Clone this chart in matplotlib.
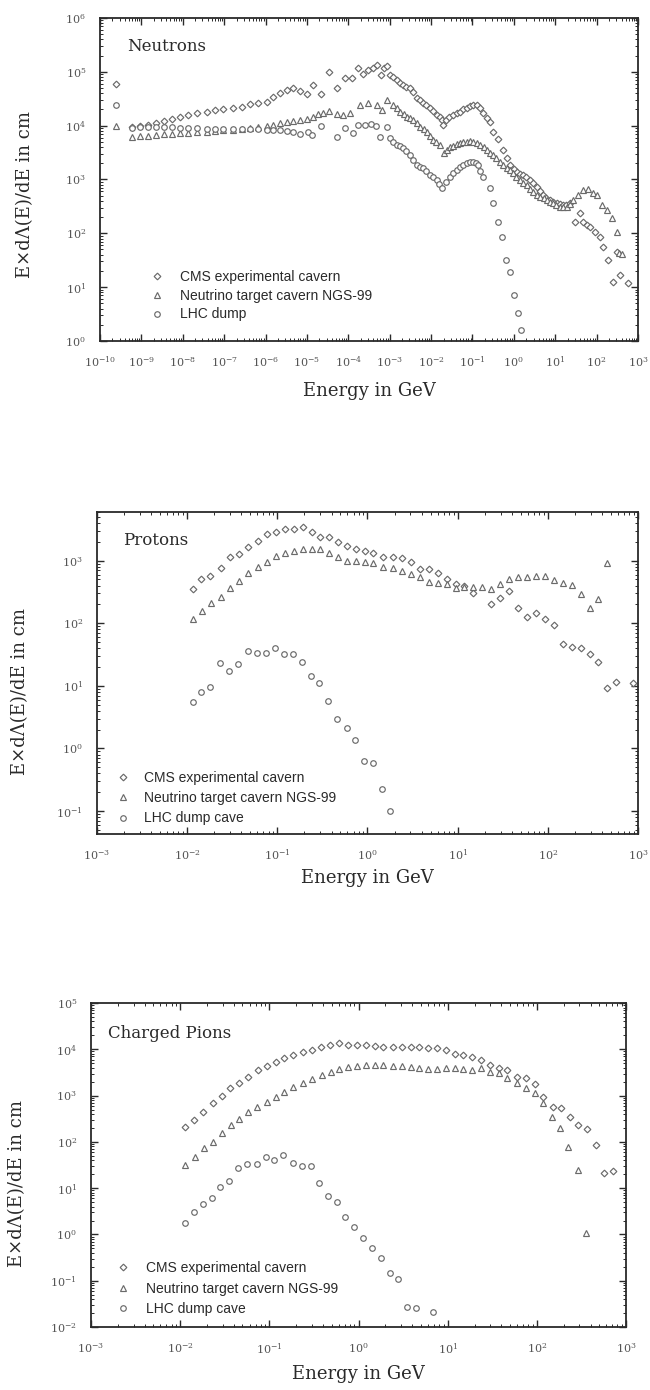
import numpy as np
import matplotlib
matplotlib.use("Agg")
import matplotlib.pyplot as plt
from matplotlib.ticker import LogLocator, LogFormatterMathtext, NullFormatter, FixedLocator

plt.rcParams["mathtext.fontset"] = "dejavuserif"

# ---------------- Neutrons (log10 of energy in GeV, log10 of E dPhi/dE in cm) ----------------
neutron_cms_log_e = [-9.61, -9.23, -9.03, -8.84, -8.65, -8.45, -8.26, -8.07, -7.87, -7.66,
                     -7.42, -7.22, -7.03, -6.79, -6.57, -6.38, -6.18, -5.97, -5.82, -5.65,
                     -5.48, -5.34, -5.17, -5.00, -4.85, -4.66, -4.47, -4.28, -4.08, -3.91,
                     -3.77, -3.65, -3.53, -3.41, -3.31, -3.21, -3.14, -3.07, -3.00, -2.92,
                     -2.83, -2.75, -2.68, -2.60, -2.51, -2.43, -2.34, -2.27, -2.20, -2.12,
                     -2.03, -1.95, -1.86, -1.79, -1.74, -1.70, -1.64, -1.57, -1.47, -1.38,
                     -1.30, -1.22, -1.14, -1.06, -0.99, -0.90, -0.82, -0.75, -0.66, -0.58,
                     -0.51, -0.39, -0.27, -0.17, -0.10, 0.00, 0.07, 0.15, 0.22, 0.30,
                     0.39, 0.47, 0.56, 0.63, 0.70, 0.78, 0.87, 0.95, 1.04, 1.11,
                     1.18, 1.27, 1.35, 1.47, 1.59, 1.67, 1.76, 1.84, 1.96, 2.08,
                     2.15, 2.27, 2.39, 2.49, 2.56, 2.75]
neutron_cms_log_y = [4.78, 3.98, 4.00, 4.02, 4.05, 4.08, 4.12, 4.16, 4.20, 4.24,
                     4.26, 4.29, 4.31, 4.33, 4.35, 4.40, 4.42, 4.44, 4.54, 4.61,
                     4.66, 4.69, 4.65, 4.58, 4.76, 4.58, 5.00, 4.70, 4.89, 4.89,
                     5.07, 4.96, 5.04, 5.07, 5.13, 4.94, 5.07, 5.11, 4.94, 4.90,
                     4.85, 4.80, 4.76, 4.72, 4.70, 4.62, 4.52, 4.47, 4.42, 4.38,
                     4.33, 4.27, 4.20, 4.16, 4.10, 4.01, 4.10, 4.16, 4.20, 4.23,
                     4.26, 4.30, 4.33, 4.36, 4.39, 4.38, 4.32, 4.24, 4.15, 4.07,
                     3.88, 3.75, 3.55, 3.40, 3.27, 3.20, 3.14, 3.11, 3.09, 3.04,
                     2.99, 2.93, 2.86, 2.78, 2.71, 2.66, 2.62, 2.59, 2.56, 2.54,
                     2.52, 2.53, 2.56, 2.21, 2.38, 2.21, 2.16, 2.12, 2.03, 1.93,
                     1.75, 1.51, 1.10, 1.65, 1.23, 1.08]

neutron_ngs_log_e = [-9.61, -9.23, -9.03, -8.84, -8.65, -8.45, -8.26, -8.07, -7.87, -7.66,
                     -7.42, -7.22, -7.03, -6.79, -6.57, -6.38, -6.18, -5.97, -5.82, -5.65,
                     -5.48, -5.34, -5.17, -5.00, -4.85, -4.72, -4.61, -4.47, -4.28, -4.13,
                     -3.95, -3.72, -3.53, -3.31, -3.19, -3.07, -2.92, -2.83, -2.75, -2.66,
                     -2.58, -2.51, -2.44, -2.35, -2.27, -2.18, -2.10, -2.03, -1.96, -1.88,
                     -1.79, -1.69, -1.62, -1.55, -1.47, -1.38, -1.30, -1.22, -1.14, -1.06,
                     -0.99, -0.90, -0.82, -0.73, -0.65, -0.58, -0.51, -0.42, -0.34, -0.25,
                     -0.17, -0.10, -0.02, 0.06, 0.14, 0.22, 0.31, 0.38, 0.46, 0.55,
                     0.63, 0.72, 0.80, 0.87, 0.94, 1.02, 1.11, 1.20, 1.28, 1.35,
                     1.43, 1.55, 1.67, 1.79, 1.91, 2.00, 2.13, 2.25, 2.37, 2.49,
                     2.55, 2.61]
neutron_ngs_log_y = [4.00, 3.79, 3.80, 3.81, 3.83, 3.84, 3.85, 3.86, 3.87, 3.88,
                     3.89, 3.90, 3.91, 3.92, 3.93, 3.95, 3.97, 3.99, 4.02, 4.05,
                     4.07, 4.09, 4.10, 4.12, 4.16, 4.22, 4.24, 4.27, 4.22, 4.20,
                     4.24, 4.39, 4.42, 4.39, 4.29, 4.48, 4.39, 4.32, 4.26, 4.21,
                     4.16, 4.14, 4.11, 4.04, 3.98, 3.93, 3.88, 3.81, 3.74, 3.69,
                     3.64, 3.49, 3.55, 3.60, 3.62, 3.66, 3.68, 3.70, 3.70, 3.71,
                     3.70, 3.68, 3.64, 3.60, 3.55, 3.50, 3.46, 3.40, 3.33, 3.27,
                     3.21, 3.17, 3.12, 3.05, 2.99, 2.94, 2.90, 2.83, 2.77, 2.72,
                     2.68, 2.65, 2.62, 2.59, 2.56, 2.53, 2.49, 2.48, 2.49, 2.55,
                     2.62, 2.71, 2.81, 2.83, 2.75, 2.71, 2.52, 2.43, 2.28, 2.03,
                     1.64, 1.62]

neutron_lhc_log_e = [-9.61, -9.23, -9.03, -8.84, -8.65, -8.45, -8.26, -8.07, -7.87, -7.66,
                     -7.42, -7.22, -7.03, -6.79, -6.57, -6.38, -6.18, -5.97, -5.82, -5.65,
                     -5.48, -5.34, -5.17, -4.98, -4.88, -4.66, -4.28, -4.08, -3.89, -3.77,
                     -3.60, -3.45, -3.33, -3.24, -3.07, -3.00, -2.92, -2.83, -2.75, -2.68,
                     -2.60, -2.51, -2.43, -2.34, -2.27, -2.20, -2.12, -2.03, -1.95, -1.86,
                     -1.80, -1.74, -1.65, -1.55, -1.47, -1.38, -1.30, -1.22, -1.14, -1.06,
                     -0.99, -0.92, -0.87, -0.81, -0.75, -0.58, -0.51, -0.39, -0.29, -0.19,
                     -0.10, 0.00, 0.10, 0.17]
neutron_lhc_log_y = [4.39, 3.96, 3.97, 3.97, 3.98, 3.98, 3.97, 3.96, 3.95, 3.95,
                     3.94, 3.94, 3.93, 3.93, 3.93, 3.93, 3.93, 3.92, 3.92, 3.92,
                     3.90, 3.88, 3.85, 3.88, 3.83, 4.00, 3.79, 3.96, 3.87, 4.01,
                     4.01, 4.03, 4.00, 3.79, 3.98, 3.77, 3.70, 3.64, 3.62, 3.59,
                     3.52, 3.46, 3.36, 3.27, 3.24, 3.21, 3.15, 3.09, 3.04, 2.99,
                     2.92, 2.84, 2.95, 3.05, 3.12, 3.18, 3.23, 3.27, 3.31, 3.33,
                     3.33, 3.31, 3.26, 3.16, 3.05, 2.84, 2.56, 2.21, 1.93, 1.51,
                     1.28, 0.86, 0.52, 0.20]

# ---------------- Protons ----------------
proton_cms_log_e = [-1.94, -1.85, -1.75, -1.62, -1.52, -1.43, -1.33, -1.21, -1.11, -1.01,
                    -0.91, -0.82, -0.72, -0.62, -0.53, -0.43, -0.33, -0.23, -0.13, -0.03,
                    0.06, 0.17, 0.28, 0.38, 0.48, 0.58, 0.68, 0.78, 0.88, 0.98,
                    1.07, 1.17, 1.37, 1.47, 1.57, 1.67, 1.77, 1.87, 1.97, 2.07,
                    2.17, 2.27, 2.37, 2.47, 2.56, 2.66, 2.76, 2.94]
proton_cms_log_y = [2.55, 2.70, 2.76, 2.89, 3.06, 3.10, 3.22, 3.32, 3.42, 3.45,
                    3.51, 3.51, 3.53, 3.46, 3.38, 3.37, 3.30, 3.24, 3.19, 3.16,
                    3.13, 3.06, 3.06, 3.05, 2.98, 2.86, 2.86, 2.81, 2.70, 2.62,
                    2.60, 2.49, 2.30, 2.41, 2.52, 2.25, 2.10, 2.17, 2.07, 1.98,
                    1.67, 1.62, 1.60, 1.51, 1.38, 0.97, 1.06, 1.05]

proton_ngs_log_e = [-1.94, -1.84, -1.73, -1.62, -1.52, -1.43, -1.33, -1.21, -1.11, -1.01,
                    -0.91, -0.82, -0.72, -0.62, -0.53, -0.43, -0.33, -0.23, -0.13, -0.03,
                    0.06, 0.17, 0.28, 0.38, 0.48, 0.58, 0.68, 0.78, 0.88, 0.98,
                    1.07, 1.17, 1.27, 1.37, 1.47, 1.57, 1.67, 1.77, 1.87, 1.97,
                    2.07, 2.17, 2.27, 2.37, 2.47, 2.56, 2.66]
proton_ngs_log_y = [2.07, 2.20, 2.33, 2.42, 2.57, 2.68, 2.81, 2.90, 2.98, 3.08,
                    3.13, 3.16, 3.19, 3.18, 3.18, 3.13, 3.06, 3.00, 2.99, 2.98,
                    2.97, 2.90, 2.89, 2.84, 2.79, 2.74, 2.66, 2.65, 2.62, 2.57,
                    2.58, 2.58, 2.58, 2.55, 2.63, 2.70, 2.74, 2.74, 2.76, 2.76,
                    2.69, 2.65, 2.61, 2.46, 2.25, 2.38, 2.97]

proton_lhc_log_e = [-1.94, -1.85, -1.75, -1.64, -1.54, -1.44, -1.33, -1.23, -1.13, -1.03,
                    -0.93, -0.83, -0.73, -0.63, -0.54, -0.44, -0.34, -0.23, -0.14, -0.04,
                    0.06, 0.16, 0.25]
proton_lhc_log_y = [0.74, 0.90, 0.98, 1.37, 1.24, 1.35, 1.56, 1.53, 1.53, 1.61,
                    1.51, 1.51, 1.38, 1.16, 1.05, 0.76, 0.47, 0.33, 0.14, -0.20,
                    -0.23, -0.65, -1.00]

# ---------------- Charged pions ----------------
pion_cms_log_e = [-1.95, -1.85, -1.74, -1.63, -1.53, -1.44, -1.34, -1.24, -1.13, -1.03,
                  -0.93, -0.83, -0.74, -0.62, -0.52, -0.42, -0.32, -0.22, -0.12, -0.02,
                  0.08, 0.18, 0.28, 0.39, 0.49, 0.59, 0.68, 0.78, 0.88, 0.98,
                  1.08, 1.17, 1.27, 1.37, 1.47, 1.57, 1.67, 1.78, 1.88, 1.98,
                  2.07, 2.18, 2.27, 2.37, 2.46, 2.56, 2.66, 2.75, 2.85]
pion_cms_log_y = [2.32, 2.47, 2.65, 2.84, 2.99, 3.16, 3.27, 3.40, 3.55, 3.64,
                  3.73, 3.81, 3.88, 3.94, 3.98, 4.05, 4.09, 4.14, 4.09, 4.09,
                  4.09, 4.07, 4.06, 4.05, 4.05, 4.05, 4.05, 4.03, 4.03, 3.98,
                  3.90, 3.87, 3.83, 3.77, 3.66, 3.60, 3.55, 3.40, 3.38, 3.25,
                  2.97, 2.75, 2.73, 2.54, 2.36, 2.28, 1.93, 1.33, 1.37]

pion_ngs_log_e = [-1.95, -1.83, -1.73, -1.63, -1.53, -1.43, -1.34, -1.24, -1.14, -1.03,
                  -0.93, -0.84, -0.74, -0.62, -0.52, -0.41, -0.31, -0.22, -0.12, -0.02,
                  0.08, 0.18, 0.28, 0.39, 0.49, 0.59, 0.68, 0.78, 0.88, 0.98,
                  1.08, 1.17, 1.27, 1.37, 1.47, 1.57, 1.67, 1.78, 1.88, 1.98,
                  2.07, 2.17, 2.26, 2.35, 2.46, 2.55]
pion_ngs_log_y = [1.50, 1.67, 1.87, 2.00, 2.19, 2.36, 2.49, 2.65, 2.75, 2.86,
                  2.97, 3.08, 3.19, 3.27, 3.36, 3.45, 3.51, 3.57, 3.62, 3.64,
                  3.66, 3.66, 3.66, 3.64, 3.64, 3.62, 3.60, 3.57, 3.57, 3.60,
                  3.60, 3.57, 3.55, 3.60, 3.51, 3.49, 3.38, 3.27, 3.16, 3.05,
                  2.84, 2.54, 2.30, 1.89, 1.39, 0.03]

pion_lhc_log_e = [-1.95, -1.85, -1.74, -1.64, -1.55, -1.45, -1.35, -1.25, -1.14, -1.04,
                  -0.95, -0.85, -0.74, -0.63, -0.53, -0.44, -0.34, -0.24, -0.15, -0.05,
                  0.05, 0.15, 0.25, 0.35, 0.44, 0.54, 0.64, 0.83]
pion_lhc_log_y = [0.25, 0.49, 0.66, 0.78, 1.03, 1.16, 1.44, 1.53, 1.53, 1.67,
                  1.61, 1.72, 1.54, 1.48, 1.48, 1.11, 0.83, 0.70, 0.38, 0.16,
                  -0.08, -0.29, -0.51, -0.83, -0.96, -1.57, -1.59, -1.67]

label_cms = "CMS experimental cavern"
label_ngs = "Neutrino target cavern NGS-99"

SERIF = "DejaVu Serif"
SANS = "Liberation Sans"
INK = "#2a2a2a"
MARK = "#6a6a6a"

fig = plt.figure(figsize=(6.5, 13.9), dpi=100)
fig.patch.set_facecolor("white")


def decades(lo, hi):
    """Powers of ten that fall inside [lo, hi]."""
    k0 = int(np.ceil(np.log10(lo) - 1e-9))
    k1 = int(np.floor(np.log10(hi) + 1e-9))
    return [10.0 ** k for k in range(k0, k1 + 1)]


def style_axes(ax, xlim, ylim, xlabelpad):
    ax.set_xscale("log")
    ax.set_yscale("log")
    ax.set_xlim(*xlim)
    ax.set_ylim(*ylim)
    for axis, lim in ((ax.xaxis, xlim), (ax.yaxis, ylim)):
        axis.set_major_locator(FixedLocator(decades(*lim)))
        axis.set_minor_locator(LogLocator(base=10, subs=np.arange(2, 10), numticks=30))
        axis.set_major_formatter(LogFormatterMathtext())
        axis.set_minor_formatter(NullFormatter())
    ax.tick_params(which="both", direction="in", top=True, right=True, colors=INK,
                   labelsize=8)
    ax.tick_params(axis="x", which="major", pad=10)
    ax.tick_params(axis="y", which="major", pad=10)
    ax.tick_params(which="major", length=5, width=1.0)
    ax.tick_params(which="minor", length=2.5, width=0.7)
    for lab in ax.get_xticklabels() + ax.get_yticklabels():
        lab.set_fontfamily(SERIF)
        lab.set_color("#555555")
    for s in ax.spines.values():
        s.set_linewidth(1.3)
        s.set_color(INK)
    ax.set_xlabel("Energy in GeV", fontsize=13, family=SERIF, color=INK,
                  labelpad=xlabelpad)
    ax.set_ylabel("E×dΛ(E)/dE in cm", fontsize=13, family=SERIF, color=INK)


def scatter(ax, log_e, log_y, marker, label, ms):
    ax.plot(np.power(10.0, log_e), np.power(10.0, log_y), linestyle="none",
            marker=marker, markersize=ms, markerfacecolor="white",
            markeredgecolor=MARK, markeredgewidth=0.85, label=label)


def add_panel(rect, title, xlim, ylim, series, lhc_label, legend_xy, text_pad,
              row_gap, ylabel_xy, xlabelpad):
    ax = fig.add_axes(rect)
    (ce, cy), (ne, ny), (le, ly) = series
    scatter(ax, ce, cy, "D", label_cms, 3.4)
    scatter(ax, ne, ny, "^", label_ngs, 4.0)
    scatter(ax, le, ly, "o", lhc_label, 4.0)
    style_axes(ax, xlim, ylim, xlabelpad)
    ax.text(*title[1], title[0], transform=ax.transAxes, fontsize=12, family=SERIF,
            color=INK, va="center", ha="left")
    ax.legend(loc="upper left", bbox_to_anchor=legend_xy, frameon=False,
              prop={"family": SANS, "size": 10}, handlelength=1.0,
              handletextpad=text_pad, labelspacing=row_gap, borderpad=0,
              borderaxespad=0, labelcolor=INK)
    ax.yaxis.set_label_coords(*ylabel_xy)
    return ax


add_panel([0.1538, 0.7547, 0.8277, 0.2324], ("Neutrons", (0.05, 0.913)),
          (1e-10, 1e3), (1e0, 1e6),
          [(neutron_cms_log_e, neutron_cms_log_y),
           (neutron_ngs_log_e, neutron_ngs_log_y),
           (neutron_lhc_log_e, neutron_lhc_log_y)],
          "LHC dump", (0.093, 0.219), 1.15, 0.33, (-0.122, 0.452), 9)

add_panel([0.1492, 0.4000, 0.8323, 0.2317], ("Protons", (0.048, 0.91)),
          (1e-3, 1e3), (0.043, 6000),
          [(proton_cms_log_e, proton_cms_log_y),
           (proton_ngs_log_e, proton_ngs_log_y),
           (proton_lhc_log_e, proton_lhc_log_y)],
          "LHC dump cave", (0.035, 0.196), 1.0, 0.45, (-0.125, 0.444), 5)

add_panel([0.1400, 0.0453, 0.8231, 0.2331], ("Charged Pions", (0.032, 0.907)),
          (1e-3, 1e3), (1e-2, 1e5),
          [(pion_cms_log_e, pion_cms_log_y),
           (pion_ngs_log_e, pion_ngs_log_y),
           (pion_lhc_log_e, pion_lhc_log_y)],
          "LHC dump cave", (0.047, 0.203), 1.15, 0.45, (-0.122, 0.444), 7)

fig.savefig("out.png", dpi=100, facecolor="white")
